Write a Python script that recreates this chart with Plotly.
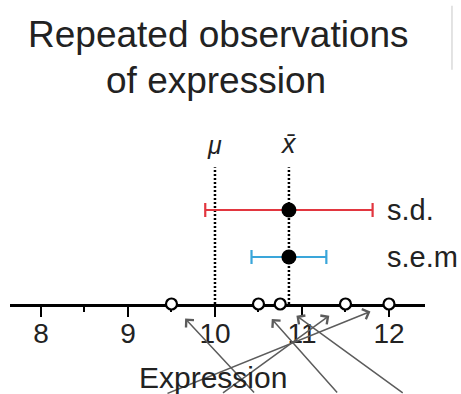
import numpy as np
import plotly.graph_objects as go

# Repeated measurements of expression (n = 5) and the true population mean
observations = [9.5, 10.5, 10.75, 11.5, 12.0]
true_mean = 10.0
tick_values = [8, 9, 10, 11, 12]
tick_labels = ["8", "9", "10", "11", "12"]
row_labels = ["s.e.m", "s.d."]
row_levels = [1, 2]

obs = np.array(observations)
x_bar = obs.mean()
sd = obs.std(ddof=1)
sem = sd / np.sqrt(len(obs))

FONT = "Liberation Sans, Arial, Helvetica, sans-serif"
INK = "#222222"
RED = "#e2363f"
BLUE = "#3aa6da"
ARROW = "#5c5c5c"
DOT_TOP = 2.91

fig = go.Figure()

# dotted reference lines at the population mean and the sample mean
for xv in (true_mean, x_bar):
    fig.add_trace(go.Scatter(
        x=[xv, xv], y=[0, DOT_TOP], mode="lines",
        line=dict(color="black", width=2.5, dash="2px,2px"),
        hoverinfo="skip", showlegend=False, cliponaxis=False))

# sample mean with ±s.d. and ±s.e.m. error bars
for level, err, col in ((2, sd, RED), (1, sem, BLUE)):
    fig.add_trace(go.Scatter(
        x=[x_bar], y=[level], mode="markers",
        marker=dict(color="black", size=15),
        error_x=dict(type="data", array=[err], color=col, thickness=2.2, width=7),
        showlegend=False, cliponaxis=False))

# individual observations sitting on the axis
fig.add_trace(go.Scatter(
    x=observations, y=[0] * len(observations), mode="markers",
    marker=dict(symbol="circle", size=11, color="white",
                line=dict(color="black", width=2.2)),
    showlegend=False, cliponaxis=False))

annotations = []
# pointer arrows rising from below toward each observation
arrow_offsets = [(84, 120), (80, 120), (124, 120), (-124, 120), (-223, 120)]
for xv, (ax, ay) in zip(observations, arrow_offsets):
    annotations.append(dict(
        x=xv, y=0, xref="x", yref="y", ax=ax, ay=ay, axref="pixel", ayref="pixel",
        text="", showarrow=True, arrowhead=4, arrowsize=1.4, arrowwidth=1.5,
        arrowcolor=ARROW, standoff=20))

# row labels right of the error bars
for lab, lev in zip(row_labels, row_levels):
    annotations.append(dict(
        x=11.95, y=lev, xref="x", yref="y", text=lab, showarrow=False,
        xanchor="left", yanchor="middle", font=dict(family=FONT, size=29, color=INK)))

# symbols above the dotted lines
annotations.append(dict(x=true_mean, y=3.38, xref="x", yref="y", text="<i>μ</i>",
                        showarrow=False, font=dict(family=FONT, size=25, color=INK)))
annotations.append(dict(x=x_bar, y=3.40, xref="x", yref="y", text="<i>x̄</i>",
                        showarrow=False, font=dict(family=FONT, size=27, color=INK)))

# axis title
annotations.append(dict(x=0.49, y=-0.40, xref="paper", yref="paper", text="Expression",
                        showarrow=False, yanchor="middle",
                        font=dict(family=FONT, size=30, color=INK)))

# two-line heading
for txt, xp, ypx in (("Repeated observations", 0.502, 35), ("of expression", 0.497, 80)):
    annotations.append(dict(x=xp, y=(304 - ypx) / 183, xref="paper", yref="paper",
                            text=txt, showarrow=False, yanchor="middle",
                            font=dict(family=FONT, size=37, color=INK)))

fig.update_layout(
    width=461, height=394,
    margin=dict(l=10, r=36, t=121, b=90, pad=0),
    paper_bgcolor="white", plot_bgcolor="white",
    annotations=annotations,
    shapes=[dict(type="line", xref="paper", yref="paper", x0=1.065, x1=1.065,
                 y0=1.28, y1=1.63, line=dict(color="#d0d0d0", width=1.2))],
    xaxis=dict(range=[7.644, 12.414], showgrid=False, zeroline=False,
               showline=True, linecolor="black", linewidth=3,
               ticks="outside", ticklen=10, tickwidth=2.2, tickcolor="black",
               tickvals=tick_values, ticktext=tick_labels,
               tickfont=dict(family=FONT, size=28, color=INK),
               ticklabelstandoff=-8,
               minor=dict(dtick=0.5, tick0=8, ticks="outside", ticklen=5,
                          tickwidth=2, tickcolor="black"),
               layer="below traces", fixedrange=True),
    yaxis=dict(range=[0, 3.894], visible=False, fixedrange=True),
)

fig.write_html("out.html")
